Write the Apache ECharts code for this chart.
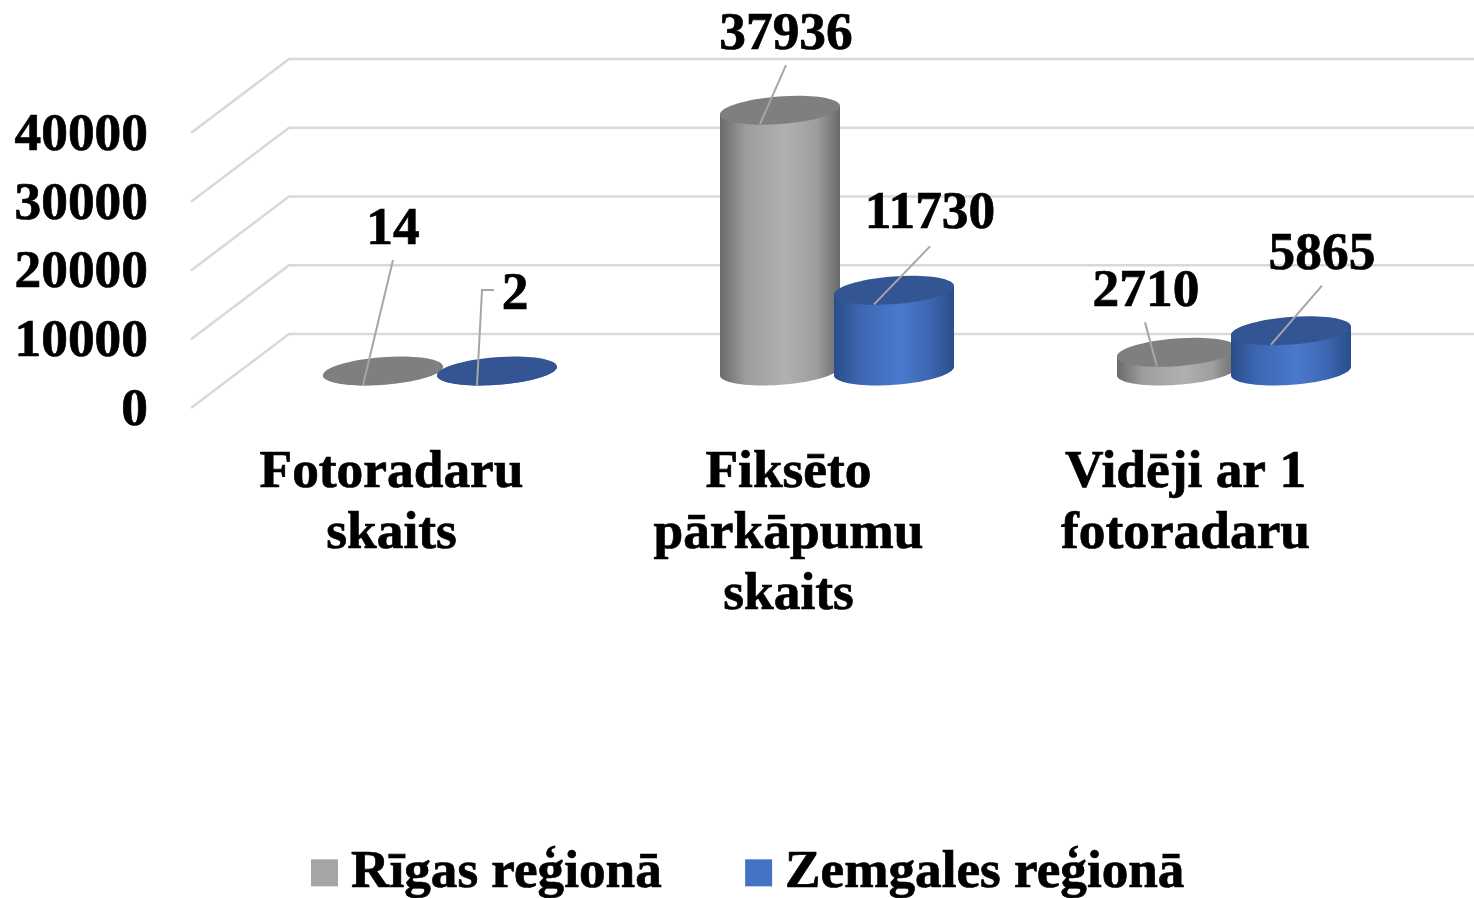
<!DOCTYPE html>
<html>
<head>
<meta charset="utf-8">
<style>html,body{margin:0;padding:0;background:#fff}#chart{width:1474px;height:898px}</style>
<script src="https://cdn.jsdelivr.net/npm/echarts@6/dist/echarts.min.js"></script>
</head>
<body>
<div id="chart"></div>
<script>
const categories = ['Fotoradaru\nskaits', 'Fiksēto\npārkāpumu\nskaits', 'Vidēji ar 1\nfotoradaru'];
const rigaName = 'Rīgas reģionā';
const zemgaleName = 'Zemgales reģionā';
const rigaValues = [14, 37936, 2710];
const zemgaleValues = [2, 11730, 5865];
const yTicks = [0, 10000, 20000, 30000, 40000];

// Label placement relative to each cylinder's top centre (presentation only)
const rigaLabelLayout = [
  {label: [10, -141], leader: [[10, -111]]},
  {label: [6, -75], leader: [[6, -45]]},
  {label: [-31, -60], leader: [[-32, -30]]}
];
const zemgaleLabelLayout = [
  {label: [18, -76], leader: [[-3, -81], [-15, -81]]},
  {label: [36, -76], leader: [[36, -44]]},
  {label: [31, -75], leader: [[31, -45]]}
];

const FONT = '"Liberation Serif","Times New Roman",serif';
const FONT_SIZE = 53.4;
const TEXT_STROKE = 0.7;
const DEPTH_X = 98, DEPTH_Y = -74;
const RX = 60, SKEW = 4.3, KY = 13.85;
const BASE_DY = -37;

function cylinderRenderer(seriesDx, shades, layout) {
  return function (params, api) {
    const i = api.value(0);
    const p = api.coord([i, api.value(1)]);
    const cx = p[0] + seriesDx;
    const cy = p[1] + BASE_DY;
    const base = api.coord([i, 0])[1] + BASE_DY;
    const body = [[cx - RX, cy + SKEW], [cx + RX, cy - SKEW]];
    for (let k = 0; k <= 40; k++) {
      const t = Math.PI * k / 40;
      body.push([cx + RX * Math.cos(t), base - SKEW * Math.cos(t) + KY * Math.sin(t)]);
    }
    const l = layout[params.dataIndex];
    const leaderPts = l.leader.map(o => [cx + o[0], cy + o[1]]);
    leaderPts.push([cx - 20, cy + 14]);
    return {
      type: 'group',
      children: [
        {type: 'polygon', shape: {points: body}, style: {
          fill: new echarts.graphic.LinearGradient(0, 0, 1, 0, [
            {offset: 0, color: shades.edge},
            {offset: 0.22, color: shades.soft},
            {offset: 0.55, color: shades.mid},
            {offset: 0.8, color: shades.soft},
            {offset: 1, color: shades.edge}
          ])
        }},
        {type: 'ellipse', x: cx, y: cy, rotation: Math.atan2(2 * SKEW * RX, RX * RX - SKEW * SKEW - KY * KY) / 2,
          shape: {cx: 0, cy: 0, rx: 60.2, ry: 13.8}, style: {fill: shades.top}},
        {type: 'polyline', shape: {points: leaderPts}, style: {stroke: '#a6a6a6', lineWidth: 2, fill: null}},
        {type: 'text', z2: 10, style: {
          text: String(api.value(1)), x: cx + l.label[0], y: cy + l.label[1],
          align: 'center', verticalAlign: 'middle',
          font: 'bold ' + FONT_SIZE + 'px ' + FONT, fill: '#000',
          stroke: '#000', lineWidth: TEXT_STROKE
        }}
      ]
    };
  };
}

const chart = echarts.init(document.getElementById('chart'), null, {renderer: 'canvas'});
chart.setOption({
  animation: false,
  backgroundColor: '#fff',
  grid: {left: 193, top: 133, width: 1191, height: 275, containLabel: false},
  legend: {
    data: [rigaName, zemgaleName],
    left: 311, top: 846,
    padding: 0,
    itemWidth: 27, itemHeight: 27, itemGap: 83,
    icon: 'rect',
    textStyle: {fontFamily: FONT, fontWeight: 'bold', fontSize: 53.2, color: '#000', padding: [0, 0, 0, 8], height: 50, lineHeight: 50,
      textBorderColor: '#000', textBorderWidth: TEXT_STROKE}
  },
  xAxis: {
    type: 'category',
    data: categories,
    axisLine: {show: false},
    axisTick: {show: false},
    axisLabel: {interval: 0, margin: 35, fontFamily: FONT, fontWeight: 'bold', fontSize: FONT_SIZE, lineHeight: 61, color: '#000',
      textBorderColor: '#000', textBorderWidth: TEXT_STROKE}
  },
  yAxis: {
    type: 'value', min: 0, max: 40000, interval: 10000,
    axisLine: {show: false},
    axisTick: {show: false},
    splitLine: {show: false},
    axisLabel: {margin: 45, formatter: String, verticalAlign: 'top', lineHeight: 6, fontFamily: FONT, fontWeight: 'bold', fontSize: FONT_SIZE, color: '#000',
      textBorderColor: '#000', textBorderWidth: TEXT_STROKE}
  },
  series: [
    {
      type: 'custom', name: 'walls', silent: true, z: 1,
      coordinateSystem: 'cartesian2d',
      data: yTicks.map(v => [0, v]),
      encode: {x: 0, y: 1},
      renderItem: function (params, api) {
        const y = api.coord([0, api.value(1)])[1];
        const x0 = 191;
        return {type: 'polyline',
          shape: {points: [[x0, y], [x0 + DEPTH_X, y + DEPTH_Y], [api.getWidth(), y + DEPTH_Y]]},
          style: {stroke: '#d9d9d9', lineWidth: 2.5, fill: null}};
      }
    },
    {
      type: 'custom', name: rigaName, z: 2,
      coordinateSystem: 'cartesian2d',
      itemStyle: {color: '#a5a5a5'},
      data: rigaValues.map((v, i) => [i, v]),
      encode: {x: 0, y: 1},
      renderItem: cylinderRenderer(-8.5, {edge: '#6a6a6a', soft: '#9e9e9e', mid: '#b0b0b0', top: '#7f7f7f'}, rigaLabelLayout)
    },
    {
      type: 'custom', name: zemgaleName, z: 3,
      coordinateSystem: 'cartesian2d',
      itemStyle: {color: '#4472c4'},
      data: zemgaleValues.map((v, i) => [i, v]),
      encode: {x: 0, y: 1},
      renderItem: cylinderRenderer(105.5, {edge: '#2a4d8a', soft: '#3d67b2', mid: '#4a78cc', top: '#335593'}, zemgaleLabelLayout)
    }
  ]
});
</script>
</body>
</html>
